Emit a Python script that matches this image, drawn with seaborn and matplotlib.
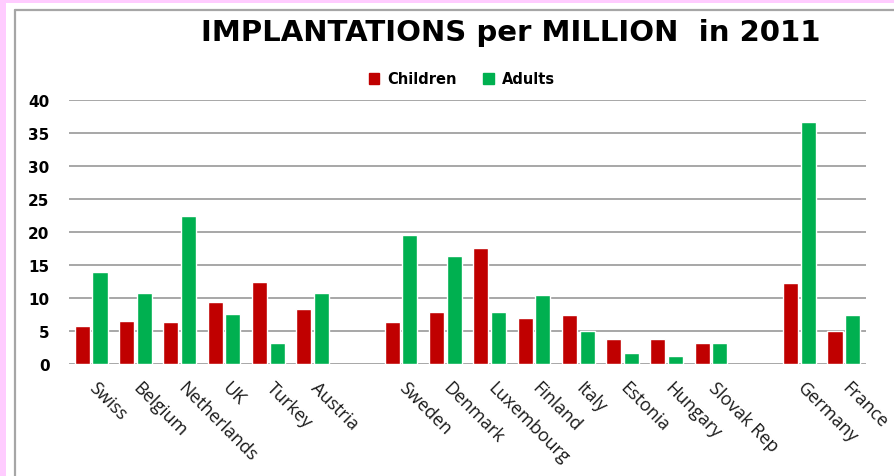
import matplotlib
matplotlib.use("Agg")
import matplotlib.pyplot as plt
import matplotlib.patches as mpatches
import matplotlib.lines as mlines
import matplotlib.transforms as mtransforms
import pandas as pd
import seaborn as sns

# data
countries = ["Swiss", "Belgium", "Netherlands", "UK", "Turkey", "Austria",
             "Sweden", "Denmark", "Luxembourg", "Finland", "Italy", "Estonia",
             "Hungary", "Slovak Rep", "Germany", "France"]
children = [5.7, 6.5, 6.3, 9.4, 12.4, 8.4,
            6.3, 7.9, 17.6, 6.9, 7.5, 3.8,
            3.8, 3.2, 12.2, 5.0]
adults = [13.9, 10.8, 22.5, 7.6, 3.2, 10.8,
          19.6, 16.3, 7.9, 10.4, 5.0, 1.6,
          1.2, 3.2, 36.6, 7.5]

# empty slots between the country groups
order = countries[:6] + [" "] + countries[6:14] + ["  "] + countries[14:]
tick_labels = [c.strip() for c in order]

df = pd.DataFrame({
    "country": countries * 2,
    "group": ["Children"] * len(countries) + ["Adults"] * len(countries),
    "value": children + adults,
})

sns.set_style("white")
plt.rcParams['font.family'] = ['DejaVu Sans']
plt.rcParams['text.color'] = 'black'
plt.rcParams['xtick.color'] = 'black'
plt.rcParams['ytick.color'] = 'black'

red = "#C00000"
green = "#00B050"
pink = "#FFCCFF"

fig = plt.figure(figsize=(8.95, 4.77), dpi=100)
fig.patch.set_facecolor("white")

# pink border bands and grey frame of the slide
fig.patches.append(mpatches.Rectangle((0, 1 - 4 / 477), 1, 4 / 477, transform=fig.transFigure,
                                      facecolor=pink, edgecolor="none", zorder=0))
fig.patches.append(mpatches.Rectangle((0, 0), 6 / 895, 1, transform=fig.transFigure,
                                      facecolor=pink, edgecolor="none", zorder=0))
fig.lines.append(mlines.Line2D([15 / 895, 1], [1 - 10.5 / 477, 1 - 10.5 / 477],
                               transform=fig.transFigure, color="#A6A6A6", lw=1.6))
fig.lines.append(mlines.Line2D([15 / 895, 15 / 895], [0, 1 - 10.5 / 477],
                               transform=fig.transFigure, color="#A6A6A6", lw=1.6))

ax = fig.add_axes([69 / 895, 1 - 365 / 477, (866 - 69) / 895, (365 - 101) / 477])
sns.barplot(data=df, x="country", y="value", hue="group", order=order,
            hue_order=["Children", "Adults"], palette=[red, green],
            width=0.8, gap=0.15, saturation=1, legend=False, ax=ax, zorder=3)

ax.set_xlim(-0.5, len(order) - 0.5)
ax.set_ylim(0, 40)
ax.set_yticks(range(0, 41, 5))
ax.yaxis.grid(True, color="#A0A0A0", lw=1.3)
ax.set_axisbelow(True)
for s in ax.spines.values():
    s.set_visible(False)
ax.set_xlabel("")
ax.set_ylabel("")
ax.set_facecolor("white")

ax.set_xticks(range(len(order)))
ax.set_xticklabels(tick_labels, rotation=-45, ha="left", va="top",
                   rotation_mode="anchor", fontsize=13, color="#1a1a1a",
                   family="Open Sans")
ax.tick_params(axis="x", length=0, pad=10)
ax.tick_params(axis="y", length=0, pad=14)
shift = mtransforms.ScaledTranslation(7 / 100, 0, fig.dpi_scale_trans)
for t in ax.get_xticklabels():
    t.set_transform(t.get_transform() + shift)
for t in ax.get_yticklabels():
    t.set_fontweight("bold")
    t.set_fontsize(11)

fig.text(511 / 895, 1 - 33 / 477, "IMPLANTATIONS per MILLION  in 2011",
         ha="center", va="center", fontsize=21, fontweight="bold", color="black")

handles = [mpatches.Patch(color=red, label="Children"),
           mpatches.Patch(color=green, label="Adults")]
fig.legend(handles=handles, loc="center", bbox_to_anchor=(462 / 895, 1 - 80 / 477),
           ncol=2, frameon=False, handlelength=0.7, handleheight=0.7,
           handletextpad=0.6, columnspacing=1.8,
           prop={"weight": "bold", "size": 10.5})

fig.savefig("out.png", dpi=100)
